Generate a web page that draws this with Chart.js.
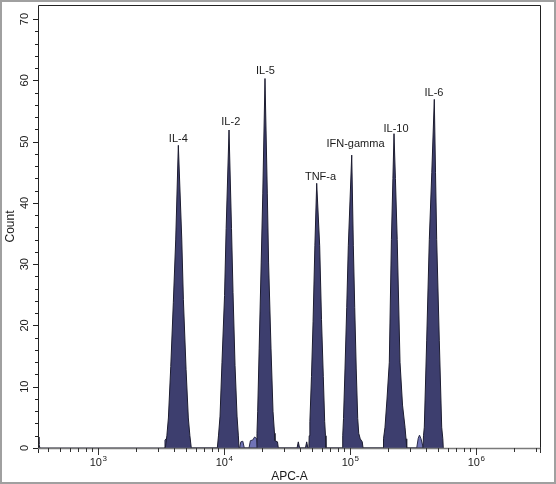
<!DOCTYPE html>
<html>
<head>
<meta charset="utf-8">
<script src="https://cdn.jsdelivr.net/npm/chart.js@4.4.1/dist/chart.umd.min.js"></script>
<style>
  html, body { margin: 0; padding: 0; background: #fff; }
  #wrap { width: 556px; height: 484px; box-sizing: border-box; border: 2px solid #a0a0a0; }
  canvas { display: block; }
</style>
</head>
<body>
<div id="wrap"><canvas id="histo" width="552" height="480"></canvas></div>
<script>
// APC-A channel values and event counts of the main histogram
const apcValues = [
  334, 340, 346,
  3420, 3520, 3620, 3780, 3960, 4140, 4340, 4620, 4760, 5000, 5210, 5360, 5500,
  8850, 9050, 9300, 9640, 10100, 10400, 10960, 11470, 11790, 12230, 12690, 12990, 13160,
  18100, 18270, 18510, 19020, 19730, 20320, 21150, 22060, 22590, 23600, 24480, 25160, 25390, 26580, 26970,
  38000, 38880, 39800, 44300, 45320, 46300,
  47170, 47430, 48040, 49470, 50940, 52640, 54400, 57460, 59390, 61370, 62960, 63890, 64470,
  86760, 87560, 88820, 91280, 94200, 96980, 103200, 106270, 109010, 112040, 115160, 117290, 120570, 125050, 126870,
  182820, 184460, 189600, 196660, 205100, 213130, 219050, 223500, 229290, 236950, 249400, 261110, 273230, 278280, 281900,
  379610, 383070, 388810, 406170, 426000, 445840, 466700, 477060, 487610, 511320, 534230, 545250, 550150
];
const counts = [
  1.8, 0.6, 0,
  0, 2.0, 4.9, 13.3, 23.7, 34.1, 49.4, 34.1, 24.2, 12.8, 4.9, 2.0, 0,
  0, 2.1, 5.2, 14.0, 24.9, 35.8, 51.9, 35.8, 25.4, 13.5, 5.2, 2.1, 0,
  0, 2.4, 6.0, 16.3, 30.2, 41.6, 60.3, 41.6, 30.2, 16.3, 6.0, 2.4, 1.2, 1.0, 0,
  0, 1.0, 0, 0, 1.0, 0,
  0, 2.0, 4.3, 11.7, 20.7, 33.0, 43.2, 33.0, 21.0, 11.7, 4.3, 2.0, 0,
  0, 2.0, 4.8, 12.9, 22.9, 33.0, 47.8, 33.0, 22.9, 12.9, 4.8, 2.4, 1.5, 1.0, 0,
  0, 1.5, 3.4, 8.0, 14.0, 34.0, 44.0, 51.3, 44.0, 34.0, 14.0, 7.0, 3.4, 1.5, 0,
  0, 2.0, 3.4, 17.6, 34.0, 45.0, 56.9, 45.0, 34.0, 17.6, 3.4, 1.5, 0
];

// small lighter shoulders at the foot of some peaks
const bumpValues = [3360, 3400, 3470, 3530, 13300, 13600, 14100, 14500,
  15790, 16200, 16900, 17500, 18200, 18500, 338400, 348000, 356000, 366000, 381700];
const bumpCounts = [0, 1.3, 1.5, 0, 0, 1.0, 1.1, 0,
  0, 1.2, 1.3, 1.8, 1.5, 0, 0, 1.6, 2.1, 1.5, 0];

const peakNames = ['IL-4', 'IL-2', 'IL-5', 'TNF-a', 'IFN-gamma', 'IL-10', 'IL-6'];
const labelApc = [4340, 11320, 21350, 58330, 110600, 231800, 464200];
const labelCount = [49.9, 52.7, 61.1, 43.8, 49.1, 51.6, 57.4];

// decade tick labels: "10" with a raised exponent
const xTickValues = [1000, 10000, 100000, 1000000];
const xTickExponents = ['3', '4', '5', '6'];

const mainPoints = apcValues.map((v, i) => ({x: v, y: counts[i]}));
const bumpPoints = bumpValues.map((v, i) => ({x: v, y: bumpCounts[i]}));

const FONT = '"Liberation Sans", Arial, sans-serif';
Chart.defaults.font.family = FONT;
Chart.defaults.font.size = 11;
Chart.defaults.color = '#1a1a1a';

const peakLabels = {
  id: 'peakLabels',
  afterDatasetsDraw(chart) {
    const {ctx, scales: {x, y}} = chart;
    ctx.save();
    ctx.font = '11px ' + FONT;
    ctx.fillStyle = '#1a1a1a';
    ctx.textAlign = 'center';
    ctx.textBaseline = 'alphabetic';
    peakNames.forEach((name, i) => {
      ctx.fillText(name, x.getPixelForValue(labelApc[i]), y.getPixelForValue(labelCount[i]));
    });
    ctx.restore();
  }
};

// frame, tick marks (major ticks longer than minor ones) and decade labels
const frameTicks = {
  id: 'frameTicks',
  afterDraw(chart) {
    const {ctx, chartArea: a, scales: {x, y}} = chart;
    ctx.save();
    ctx.lineWidth = 1;
    ctx.strokeStyle = '#222';
    ctx.beginPath();
    ctx.moveTo(a.left + 0.5, a.bottom + 5);
    ctx.lineTo(a.left + 0.5, a.top + 0.5);
    ctx.lineTo(a.right - 0.5, a.top + 0.5);
    ctx.lineTo(a.right - 0.5, a.bottom);
    ctx.stroke();

    y.ticks.forEach(t => {
      if (t.value > 70) return;
      const py = Math.round(y.getPixelForValue(t.value)) + 0.5;
      const len = t.value % 10 === 0 ? 5 : 3;
      ctx.beginPath();
      ctx.moveTo(a.left - len, py);
      ctx.lineTo(a.left, py);
      ctx.stroke();
    });

    ctx.strokeStyle = '#7a7a7a';
    ctx.lineWidth = 1.5;
    ctx.beginPath();
    ctx.moveTo(a.left, a.bottom + 0.5);
    ctx.lineTo(a.right, a.bottom + 0.5);
    ctx.stroke();

    ctx.strokeStyle = '#333';
    ctx.lineWidth = 1;
    x.ticks.forEach(t => {
      const e = Math.floor(Math.log10(t.value) + 1e-9);
      const m = t.value / Math.pow(10, e);
      if (Math.abs(m - Math.round(m)) > 1e-6) return;
      const px = Math.round(x.getPixelForValue(t.value)) + 0.5;
      const len = Math.round(m) === 1 ? 7 : 4;
      ctx.beginPath();
      ctx.moveTo(px, a.bottom);
      ctx.lineTo(px, a.bottom + len);
      ctx.stroke();
    });
    ctx.beginPath();
    ctx.moveTo(a.right - 0.5, a.bottom);
    ctx.lineTo(a.right - 0.5, a.bottom + 5);
    ctx.stroke();

    ctx.fillStyle = '#1a1a1a';
    ctx.textAlign = 'left';
    ctx.textBaseline = 'alphabetic';
    xTickValues.forEach((v, i) => {
      const px = x.getPixelForValue(v);
      ctx.font = '11px ' + FONT;
      const wBase = ctx.measureText('10').width;
      ctx.font = '8px ' + FONT;
      const wExp = ctx.measureText(xTickExponents[i]).width;
      const start = px - (wBase + wExp) / 2;
      ctx.font = '11px ' + FONT;
      ctx.fillText('10', start, a.bottom + 18);
      ctx.font = '8px ' + FONT;
      ctx.fillText(xTickExponents[i], start + wBase + 0.5, a.bottom + 13);
    });
    ctx.restore();
  }
};

new Chart(document.getElementById('histo'), {
  type: 'line',
  data: {
    datasets: [{
      data: mainPoints,
      borderColor: '#1c1c30',
      borderWidth: 1,
      backgroundColor: '#3d3e6e',
      fill: 'origin',
      pointRadius: 0,
      tension: 0
    }, {
      data: bumpPoints,
      borderColor: '#2a2b4a',
      borderWidth: 1,
      backgroundColor: '#7073b6',
      fill: 'origin',
      pointRadius: 0,
      tension: 0
    }]
  },
  options: {
    responsive: false,
    animation: false,
    layout: { padding: { top: 3, right: 13, left: 0, bottom: 0 } },
    plugins: { legend: { display: false }, tooltip: { enabled: false } },
    scales: {
      x: {
        type: 'logarithmic',
        min: 334,
        max: 3280000,
        grid: { display: false, drawTicks: false },
        border: { display: false },
        ticks: {
          autoSkip: false,
          minRotation: 0,
          maxRotation: 0,
          padding: 10,
          callback: function() { return ''; }
        },
        title: { display: true, text: 'APC-A', font: { size: 12 }, padding: { top: 0, bottom: -2 } },
        afterFit: function(scale) {
          scale.height = 34;
          scale.paddingLeft = 0;
          scale.paddingRight = 0;
        }
      },
      y: {
        min: 0,
        max: 72.3,
        grid: { display: false, drawTicks: false },
        border: { display: false },
        ticks: {
          stepSize: 2,
          includeBounds: false,
          autoSkip: false,
          minRotation: 90,
          maxRotation: 90,
          crossAlign: 'center',
          padding: 7,
          callback: function(v) { return v % 10 === 0 ? String(v) : ''; }
        },
        title: { display: true, text: 'Count', font: { size: 12 }, padding: { top: 1, bottom: 0 } },
        afterFit: function(scale) {
          scale.width = 36;
          scale.paddingTop = 0;
          scale.paddingBottom = 0;
        }
      }
    }
  },
  plugins: [peakLabels, frameTicks]
});
</script>
</body>
</html>
